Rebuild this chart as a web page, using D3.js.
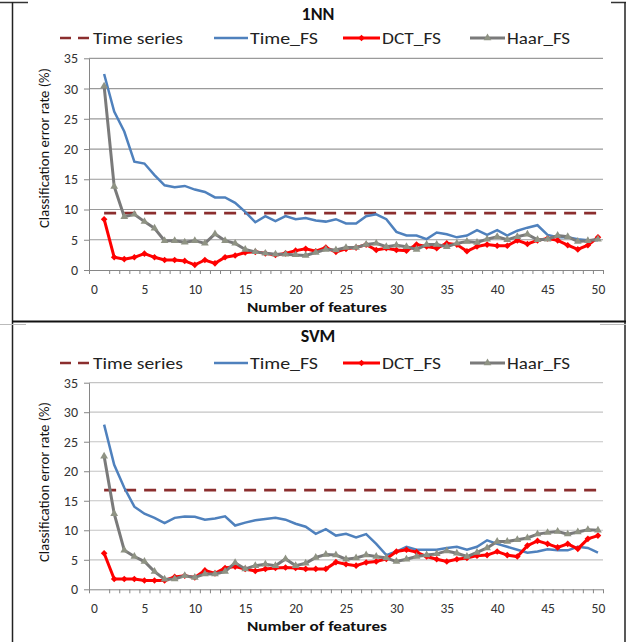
<!DOCTYPE html>
<meta charset="utf-8">
<script src="https://d3js.org/d3.v7.min.js"></script>
<style>
  body { margin: 0; background: #fff; }
  svg { display: block; font-family: Carlito, Calibri, Lato, sans-serif; }
</style>
<div id="my_dataviz"></div>
<script>

// categories: number of features
var features = [1,2,3,4,5,6,7,8,9,10,11,12,13,14,15,16,17,18,19,20,
                21,22,23,24,25,26,27,28,29,30,31,32,33,34,35,36,37,38,39,40,
                41,42,43,44,45,46,47,48,49,50];
var xLabels = [0,5,10,15,20,25,30,35,40,45,50];
var yLabels = [0,5,10,15,20,25,30,35];
var seriesNames = ["Time series", "Time_FS", "DCT_FS", "Haar_FS"];

// 1NN panel
var nnTimeSeries = 9.4;
var nnTimeFS = [32.4,26.2,22.9,17.9,17.6,15.7,14.0,13.7,13.9,13.3,12.9,12.0,12.0,11.1,9.6,7.9,8.9,8.1,8.9,8.4,
                8.6,8.2,8.0,8.4,7.7,7.7,8.9,9.2,8.4,6.3,5.7,5.7,5.1,6.2,5.9,5.4,5.7,6.6,5.8,6.6,
                5.7,6.5,7.0,7.4,5.8,5.4,5.4,5.1,4.9,4.9];
var nnDctFS = [8.4,2.1,1.8,2.1,2.7,2.1,1.65,1.65,1.5,0.85,1.65,1.1,2.1,2.4,2.9,3.0,2.75,2.5,2.75,3.2,
               3.5,3.1,3.7,3.0,3.5,3.7,4.2,3.3,3.6,3.3,3.2,4.2,3.9,3.6,4.4,4.2,3.1,3.9,4.2,4.0,
               4.0,4.9,4.3,4.9,5.2,4.9,4.1,3.4,4.1,5.4];
var nnHaarFS = [30.4,13.8,8.8,9.2,8.0,6.9,4.85,4.85,4.6,4.85,4.4,5.95,4.85,4.4,3.4,3.0,2.75,2.6,2.6,2.5,
                2.4,2.9,3.4,3.3,3.7,3.7,4.2,4.4,3.85,4.1,3.85,3.4,4.2,4.2,3.85,4.4,4.7,4.55,5.1,5.5,
                5.0,5.5,5.9,5.0,5.1,5.7,5.5,4.7,4.85,5.1];

// SVM panel
var svmTimeSeries = 16.8;
var svmTimeFS = [27.9,21.1,17.2,14.0,12.8,12.1,11.2,12.1,12.35,12.3,11.8,12.0,12.35,10.8,11.3,11.7,11.9,12.1,11.8,11.1,
                 10.6,9.4,10.2,9.1,9.4,8.8,9.35,7.7,5.8,6.4,7.2,6.7,6.7,6.7,7.0,7.2,6.7,7.2,8.3,7.7,
                 7.2,6.7,6.2,6.4,6.8,6.6,6.6,7.2,7.0,6.2];
var svmDctFS = [6.1,1.75,1.75,1.75,1.5,1.5,1.5,2.1,2.3,2.0,3.2,2.7,3.6,3.85,3.45,3.1,3.45,3.6,3.7,3.6,
                3.45,3.45,3.45,4.6,4.25,4.0,4.55,4.7,5.15,6.4,6.7,6.3,5.55,5.1,4.7,5.1,5.3,5.7,5.8,6.4,
                5.8,5.55,7.4,8.2,7.7,7.1,7.7,6.85,8.55,9.1];
var svmHaarFS = [22.55,12.8,6.6,5.55,4.7,3.0,1.7,1.75,2.3,2.0,2.6,2.6,3.0,4.5,3.45,4.0,4.25,4.0,5.15,4.0,
                 4.4,5.4,5.9,5.8,5.1,5.3,5.8,5.55,5.3,4.7,5.1,5.55,5.8,6.0,6.5,6.1,5.55,6.25,7.0,8.1,
                 8.1,8.4,8.7,9.35,9.6,9.8,9.35,9.7,10.1,10.0];

var colors = {ts: "#8b2e2e", time: "#4f81bd", dct: "#ff0000", haar: "#7a7a7a", tri: "#8f9384"};

var svg = d3.select("#my_dataviz")
  .append("svg")
    .attr("width", 626)
    .attr("height", 642);

// frame lines (screenshot borders)
function seg(x1, y1, x2, y2, c, w) {
  svg.append("line").attr("x1", x1).attr("y1", y1).attr("x2", x2).attr("y2", y2)
    .attr("stroke", c).attr("stroke-width", w);
}
seg(0, 2.5, 28, 2.5, "#333", 1.5);
seg(611, 2.5, 626, 2.5, "#333", 1.5);
seg(12.5, 2, 12.5, 642, "#222", 1.5);
seg(625, 2, 625, 642, "#222", 1.5);
seg(12, 321.5, 626, 321.5, "#111", 2);
seg(0, 324.5, 26, 324.5, "#bbb", 1);
seg(600, 324.5, 626, 324.5, "#bbb", 1);

var diamond = d3.symbol().type(d3.symbolSquare).size(22);
var triangle = d3.symbol().type(d3.symbolTriangle).size(26);

function drawPanel(p) {
  var x = d3.scaleLinear().domain([-0.5, 50.5]).range([89, 603]);
  var y = d3.scaleLinear().domain([0, 35]).range([p.bottom, p.top]);
  var g = svg.append("g");

  // title
  g.append("text")
    .attr("x", 318).attr("y", p.titleY)
    .attr("text-anchor", "middle")
    .style("font-size", "18px").style("font-weight", "bold").style("fill", "#111")
    .text(p.title);

  // legend
  var ly = p.legendY;
  var lg = g.append("g").attr("transform", "translate(0," + ly + ")");
  lg.append("line").attr("x1", 60).attr("x2", 89).attr("y1", 0).attr("y2", 0)
    .attr("stroke", colors.ts).attr("stroke-width", 2.5).attr("stroke-dasharray", "11,7");
  lg.append("line").attr("x1", 214).attr("x2", 248).attr("y1", 0).attr("y2", 0)
    .attr("stroke", colors.time).attr("stroke-width", 2.5);
  lg.append("line").attr("x1", 343).attr("x2", 380).attr("y1", 0).attr("y2", 0)
    .attr("stroke", colors.dct).attr("stroke-width", 3);
  lg.append("path").attr("d", diamond).attr("transform", "translate(361.5,0) rotate(45)")
    .attr("fill", colors.dct);
  lg.append("line").attr("x1", 470).attr("x2", 505).attr("y1", 0).attr("y2", 0)
    .attr("stroke", colors.haar).attr("stroke-width", 3);
  lg.append("path").attr("d", triangle).attr("transform", "translate(487.5,0)")
    .attr("fill", colors.tri);
  var lx = [93, 250, 382, 507];
  var lw = [90, 68, 59, 63];
  seriesNames.forEach(function(n, i) {
    lg.append("text").attr("x", lx[i]).attr("y", 5.5)
      .attr("textLength", lw[i]).attr("lengthAdjust", "spacingAndGlyphs")
      .style("font-size", "16px").style("fill", "#222").text(n);
  });

  // grid
  g.append("g").selectAll("line").data(yLabels.filter(function(d) { return d > 0; }))
    .enter().append("line")
      .attr("x1", 89).attr("x2", 603)
      .attr("y1", function(d) { return y(d); }).attr("y2", function(d) { return y(d); })
      .attr("stroke", p.grid).attr("stroke-width", 1.2);

  // y axis
  var ya = g.append("g").attr("transform", "translate(89,0)")
    .call(d3.axisLeft(y).tickValues(yLabels).tickSize(5).tickSizeOuter(0).tickPadding(6));
  ya.select(".domain").attr("stroke", "#868686");
  ya.selectAll(".tick line").attr("stroke", "#868686");
  ya.selectAll(".tick text").style("font-size", "14px").style("fill", "#333")
    .style("font-family", "Carlito, Calibri, Lato, sans-serif");

  // x axis: tick marks between categories, labels every 5
  var bounds = [-0.5].concat(features.map(function(d) { return d + 0.5; }));
  var xa = g.append("g").attr("transform", "translate(0," + p.bottom + ")")
    .call(d3.axisBottom(x).tickValues(bounds).tickSize(4).tickSizeOuter(0).tickFormat(""));
  xa.select(".domain").attr("stroke", "#868686");
  xa.selectAll(".tick line").attr("stroke", "#868686");
  var xl = g.append("g").attr("transform", "translate(0," + p.bottom + ")")
    .call(d3.axisBottom(x).tickValues(xLabels).tickSize(0).tickPadding(14));
  xl.select(".domain").remove();
  xl.selectAll(".tick text").style("font-size", "13.5px").style("fill", "#333")
    .style("font-family", "Carlito, Calibri, Lato, sans-serif");

  // axis titles
  g.append("text")
    .attr("x", 317).attr("y", p.bottom + 42)
    .attr("text-anchor", "middle")
    .attr("textLength", 140).attr("lengthAdjust", "spacingAndGlyphs")
    .style("font-size", "14.5px").style("font-weight", "bold").style("fill", "#111")
    .text("Number of features");
  g.append("text")
    .attr("transform", "translate(49," + p.yTitleC + ") rotate(-90)")
    .attr("text-anchor", "middle")
    .attr("textLength", 160).attr("lengthAdjust", "spacingAndGlyphs")
    .style("font-size", "15px").style("fill", "#111")
    .text("Classification error rate (%)");

  // series
  var line = d3.line()
    .x(function(d, i) { return x(features[i]); })
    .y(function(d) { return y(d); });

  g.append("line")
    .attr("x1", x(features[0])).attr("x2", x(features[features.length - 1]))
    .attr("y1", y(p.ts)).attr("y2", y(p.ts))
    .attr("stroke", colors.ts).attr("stroke-width", 2.8).attr("stroke-dasharray", "12,8");

  g.append("path").datum(p.time).attr("d", line)
    .attr("fill", "none").attr("stroke", colors.time).attr("stroke-width", 2.5);

  g.append("path").datum(p.dct).attr("d", line)
    .attr("fill", "none").attr("stroke", colors.dct).attr("stroke-width", 3);
  g.append("g").selectAll("path").data(p.dct).enter().append("path")
    .attr("d", diamond)
    .attr("transform", function(d, i) { return "translate(" + x(features[i]) + "," + y(d) + ") rotate(45)"; })
    .attr("fill", colors.dct);

  g.append("path").datum(p.haar).attr("d", line)
    .attr("fill", "none").attr("stroke", colors.haar).attr("stroke-width", 3);
  g.append("g").selectAll("path").data(p.haar).enter().append("path")
    .attr("d", triangle)
    .attr("transform", function(d, i) { return "translate(" + x(features[i]) + "," + y(d) + ")"; })
    .attr("fill", colors.tri);
}

drawPanel({title: "1NN", titleY: 19.5, legendY: 38, top: 58.3, bottom: 270, yTitleC: 148,
           grid: "#9a9a9a", ts: nnTimeSeries, time: nnTimeFS, dct: nnDctFS, haar: nnHaarFS});
drawPanel({title: "SVM", titleY: 341.5, legendY: 363, top: 382.7, bottom: 589.3, yTitleC: 482,
           grid: "#c4c4c4", ts: svmTimeSeries, time: svmTimeFS, dct: svmDctFS, haar: svmHaarFS});

</script>
